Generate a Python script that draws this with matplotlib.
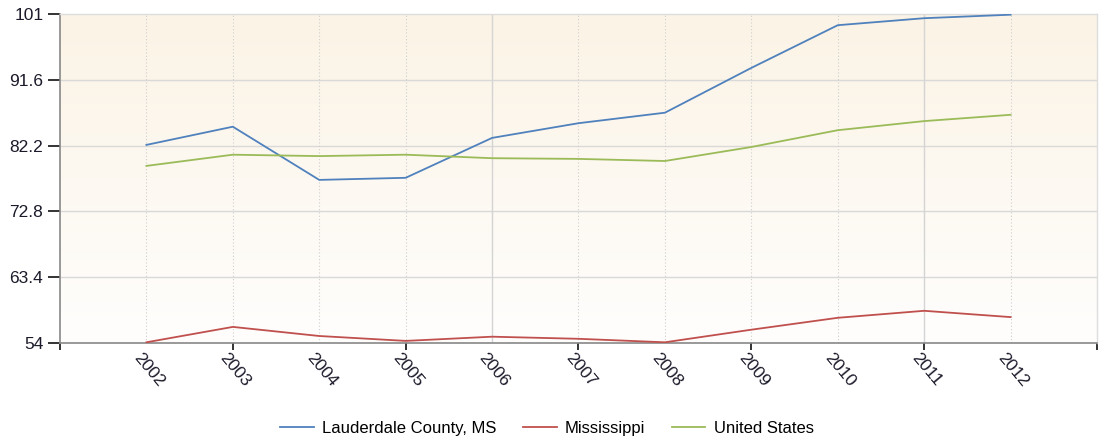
import matplotlib
matplotlib.use("Agg")
import matplotlib.pyplot as plt
import numpy as np

years = [2002, 2003, 2004, 2005, 2006, 2007, 2008, 2009, 2010, 2011, 2012]
lauderdale = [82.3, 84.9, 77.3, 77.6, 83.3, 85.4, 86.9, 93.3, 99.4, 100.4, 100.9]
mississippi = [54.1, 56.3, 55.0, 54.3, 54.9, 54.6, 54.1, 55.9, 57.6, 58.6, 57.7]
united_states = [79.3, 80.9, 80.7, 80.9, 80.4, 80.3, 80.0, 82.0, 84.4, 85.7, 86.6]
y_ticks = [54, 63.4, 72.8, 82.2, 91.6, 101]
y_tick_labels = ["54", "63.4", "72.8", "82.2", "91.6", "101"]

plt.rcParams['font.family'] = ['Liberation Sans', 'DejaVu Sans']

fig = plt.figure(figsize=(11, 4.44), dpi=100)
ax = fig.add_axes([60/1100, 1 - 343/444, (1097-60)/1100, (343-14)/444])

xmin, xmax = 2001, 2013
ymin, ymax = 54, 101
ax.set_xlim(xmin, xmax)
ax.set_ylim(ymin, ymax)

# gradient background
grad = np.linspace(0, 1, 256).reshape(-1, 1)
top = np.array([0xfb, 0xf3, 0xe5]) / 255
bot = np.array([0xff, 0xfe, 0xfd]) / 255
img = top[None, None, :] * (1 - grad[:, :, None]) + bot[None, None, :] * grad[:, :, None]
ax.imshow(img, extent=[xmin, xmax, ymin, ymax], aspect='auto', zorder=0, origin='upper')

# grid
for yv in y_ticks[1:-1]:
    ax.axhline(yv, color='#d9d9d9', lw=1.0, zorder=1)
for yr in years:
    if yr in (2006, 2011):
        ax.axvline(yr, color='#d4d4d4', lw=1.0, zorder=1)
    else:
        ax.axvline(yr, color='#cfcfcf', lw=0.8, ls=(0, (1, 2)), zorder=1)

ax.plot(years, lauderdale, color='#4f81bd', lw=1.3, label='Lauderdale County, MS', zorder=3)
ax.plot(years, mississippi, color='#c0504d', lw=1.3, label='Mississippi', zorder=3)
ax.plot(years, united_states, color='#9bbb59', lw=1.3, label='United States', zorder=3)

ax.set_yticks(y_ticks)
ax.set_yticklabels(y_tick_labels, fontsize=12.5, color='#1a1a2a')
ax.set_xticks([2001, 2003, 2005, 2007, 2009, 2011, 2013])
ax.set_xticklabels([])
ax.tick_params(axis='y', direction='out', length=9, width=1.4, color='#333333', pad=3)
ax.tick_params(axis='x', direction='out', length=5, width=1.4, color='#333333')

for yr in years:
    ax.text(yr - 0.05, ymin - 1.1, str(yr), rotation=-50, ha='left', va='top',
            rotation_mode='anchor', fontsize=12.5, color='#1a1a2a')

for s in ['left', 'bottom']:
    ax.spines[s].set_color('#888888')
    ax.spines[s].set_linewidth(1.2)
for s in ['top', 'right']:
    ax.spines[s].set_color('#dddddd')
    ax.spines[s].set_linewidth(1.0)

fig.legend(loc='center', bbox_to_anchor=(547/1100, 1 - 428/444), ncol=3, frameon=False,
           fontsize=12, handlelength=2.0, columnspacing=1.6, handletextpad=0.5)

fig.savefig('out.png', dpi=100)
